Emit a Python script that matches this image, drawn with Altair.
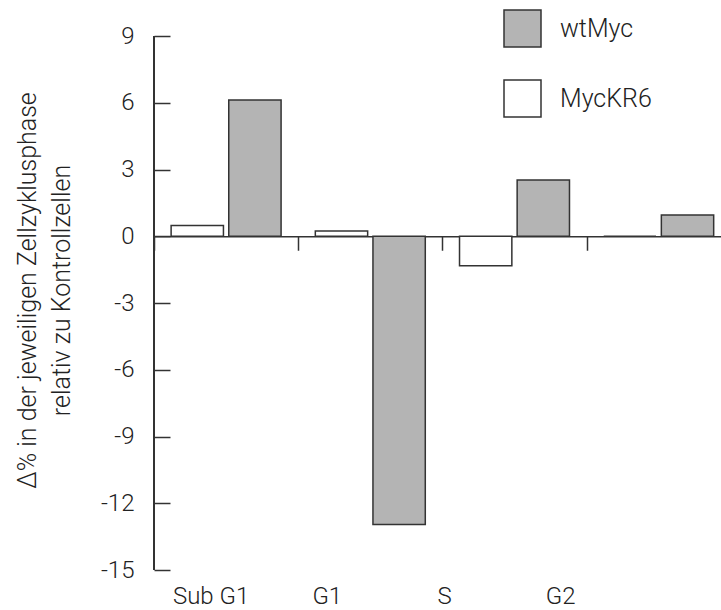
import altair as alt
import pandas as pd

phases = ["Sub G1", "G1", "S", "G2"]
series_order = ["MycKR6", "wtMyc"]
legend_order = ["wtMyc", "MycKR6"]
wt_myc = [6.12, -12.95, 2.53, 0.96]
myc_kr6 = [0.48, 0.24, -1.33, 0.0]
y_ticks = [-15, -12, -9, -6, -3, 0, 3, 6, 9]
y_title = ["Δ% in der jeweiligen Zellzyklusphase", "relativ zu Kontrollzellen"]

rows = []
for i, p in enumerate(phases):
    rows.append({"Phase": p, "Series": "MycKR6", "Value": myc_kr6[i]})
    rows.append({"Phase": p, "Series": "wtMyc", "Value": wt_myc[i]})
df = pd.DataFrame(rows)

FONT = "Roboto"
FS = 24
W, H = 567, 534
BAND = 144.2
LINE = "#333333"
TXT = "#222222"

xscale = alt.Scale(domain=phases, range=[0, 4 * BAND], paddingInner=0, paddingOuter=0)
xoff_scale = alt.Scale(domain=series_order, paddingInner=0.092, paddingOuter=0.297)
yscale = alt.Scale(domain=[-15, 9], nice=False, zero=False)

label_offset = {
    "condition": [
        {"test": "datum.value === 'Sub G1'", "value": -15},
        {"test": "datum.value === 'G1'", "value": -43},
        {"test": "datum.value === 'S'", "value": -70},
    ],
    "value": -98,
}

y_axis = alt.Axis(orient="left", offset=-16, domain=False, tickSize=16,
                  tickColor=LINE, tickWidth=1.5, values=y_ticks, grid=False,
                  labelExpr="'' + datum.value",
                  labelFontSize=FS, labelFont=FONT, labelFontWeight=300,
                  labelColor=TXT, labelPadding=20,
                  title=y_title, titleFontSize=25, titleFont=FONT,
                  titleFontWeight=300, titleColor=TXT, titleLineHeight=34,
                  titleAngle=270, titleBaseline="middle", titleAlign="center",
                  titleX=27 - 170, titleY=290 - 36)

bars = alt.Chart(df).mark_bar(stroke=LINE, strokeWidth=1.5).encode(
    x=alt.X("Phase:N", scale=xscale, sort=phases,
            axis=alt.Axis(orient="bottom", title=None, domain=False, ticks=False,
                          labelAngle=0, labelPadding=14, labelFontSize=FS, labelFont=FONT,
                          labelFontWeight=300, labelColor=TXT, labelOffset=label_offset)),
    xOffset=alt.XOffset("Series:N", scale=xoff_scale, sort=series_order),
    y=alt.Y("Value:Q", scale=yscale, axis=y_axis),
    fill=alt.Fill("Series:N", sort=legend_order,
                  scale=alt.Scale(domain=legend_order, range=["#b4b4b4", "#ffffff"]),
                  legend=alt.Legend(title=None, orient="none", legendX=349, legendY=-27,
                                    symbolType="square", symbolSize=1369,
                                    symbolStrokeColor=LINE, symbolStrokeWidth=1.5,
                                    symbolOpacity=1,
                                    labelFontSize=25, labelFont=FONT, labelFontWeight=300,
                                    labelColor=TXT, labelOffset=18, rowPadding=27,
                                    padding=0)),
)

zero_axis = alt.Chart(df).mark_bar(opacity=0).encode(
    x=alt.X("Phase:N", scale=xscale, sort=phases,
            axis=alt.Axis(orient="bottom", offset=-(H - H * 9 / 24), title=None,
                          domain=True, domainColor=LINE, domainWidth=1.5,
                          ticks=True, tickBand="extent", tickSize=14, tickColor=LINE,
                          tickWidth=1.5, labels=False, grid=False)),
    xOffset=alt.XOffset("Series:N", scale=xoff_scale, sort=series_order),
    y=alt.Y("Value:Q", scale=yscale, axis=y_axis),
)

y_domain = alt.Chart(df).mark_rule(color=LINE, strokeWidth=1.5).encode(
    x=alt.value(0),
    y=alt.Y(datum=9, axis=y_axis),
    y2=alt.Y2(datum=-15),
)

chart = alt.layer(bars, zero_axis, y_domain).resolve_axis(x="independent").properties(
    width=W, height=H,
    autosize=alt.AutoSizeParams(type="none"),
    padding={"left": 154, "top": 36, "right": 0, "bottom": 40},
).configure_view(stroke=None)

chart.save("out.html", embed_options={"renderer": "svg", "actions": False})
